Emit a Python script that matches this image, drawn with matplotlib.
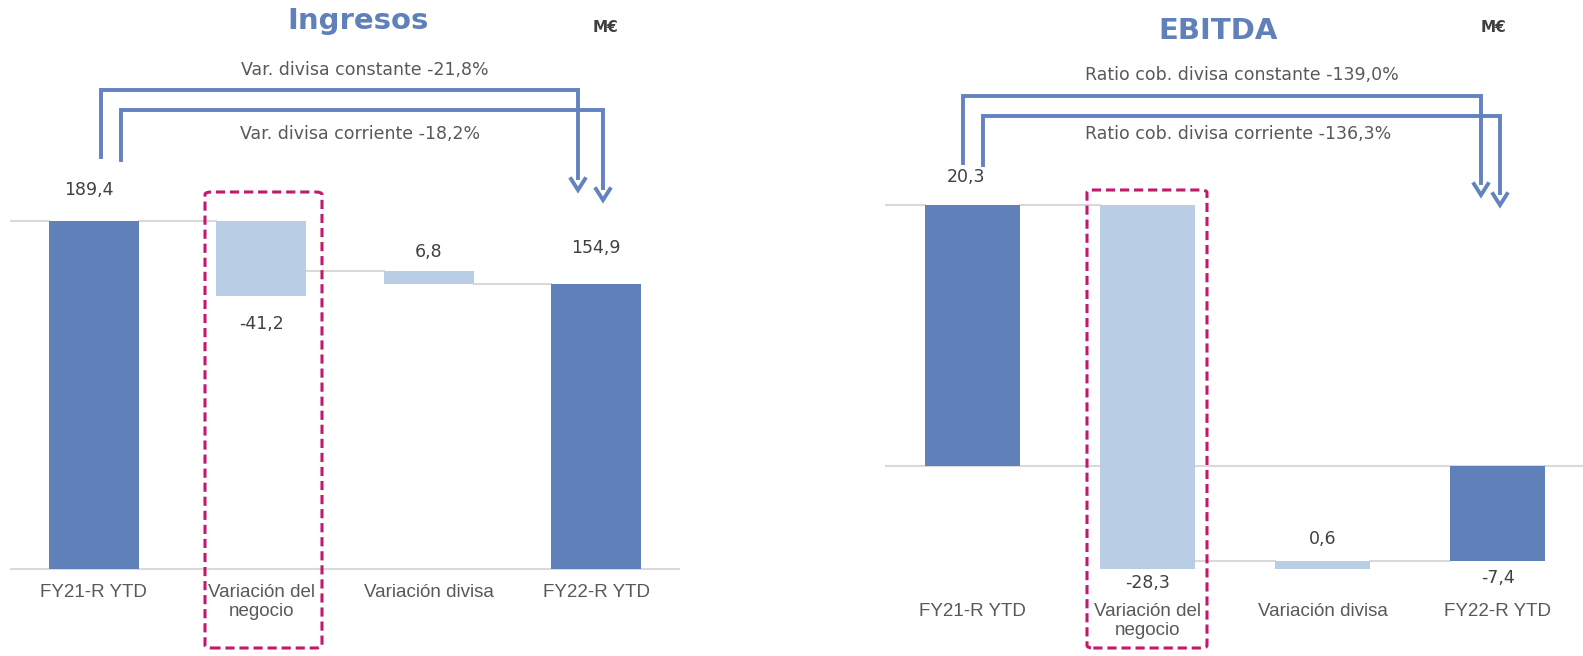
import numpy as np
import matplotlib.pyplot as plt
from matplotlib.patches import FancyBboxPatch
from matplotlib.transforms import blended_transform_factory

W, H = 1583, 656

categories = ['FY21-R YTD', 'Variación del\nnegocio', 'Variación divisa', 'FY22-R YTD']

# Ingresos (M€)
ing_values = [189.4, -41.2, 6.8, 154.9]
ing_bases = [0, 189.4, 154.9, 0]
ing_labels = ['189,4', '-41,2', '6,8', '154,9']
ing_notes = ['Var. divisa constante -21,8%', 'Var. divisa corriente -18,2%']

# EBITDA (M€)
ebitda_values = [20.3, -28.3, 0.6, -7.4]
ebitda_bases = [0, 20.3, -8.0, 0]
ebitda_labels = ['20,3', '-28,3', '0,6', '-7,4']
ebitda_notes = ['Ratio cob. divisa constante -139,0%', 'Ratio cob. divisa corriente -136,3%']

is_total = [True, False, False, True]

DARK = '#6080BA'
LIGHT = '#B9CDE5'
ARROW = '#6382C0'
GRID = '#D9D9D9'
MAGENTA = '#C2186F'
TXT = '#404040'
CAT = '#595959'

fig = plt.figure(figsize=(W / 100, H / 100), dpi=100)


def fx(px):
    return px / W


def fy(py):
    return 1 - py / H


def waterfall(x0, x1, zero_px, scale, values, bases, labels, cat_y, offsets, first_dx):
    ax = fig.add_axes([fx(x0), 0, fx(x1 - x0), 1])
    ax.set_xlim(-0.5, 3.5)
    ax.set_ylim(-(H - zero_px) / scale, zero_px / scale)
    ax.axis('off')
    x = np.arange(len(values))
    colors = [DARK if t else LIGHT for t in is_total]
    ax.bar(x, values, bottom=bases, width=0.54, color=colors, zorder=3)
    ax.axhline(0, color=GRID, lw=1.5, zorder=1)
    # connectors between bars
    tops = [b + v for b, v in zip(bases, values)]
    levels = [tops[0], max(tops[2], bases[2]), tops[3]]
    for i, lev in enumerate(levels):
        ax.plot([i + 0.27, i + 1 - 0.27], [lev, lev], color=GRID, lw=1.5, zorder=1)
    ax.plot([-0.5, -0.27], [tops[0], tops[0]], color=GRID, lw=1.5, zorder=1)
    # value labels
    for i, (b, v, lab) in enumerate(zip(bases, values, labels)):
        top, bot = max(b, b + v), min(b, b + v)
        dx = first_dx if i == 0 else 0
        if v < 0:
            ax.annotate(lab, (i + dx, bot), xytext=(0, -offsets[i]), textcoords='offset points',
                        ha='center', va='center', fontsize=12.5, color=TXT)
        else:
            ax.annotate(lab, (i + dx, top), xytext=(0, offsets[i]), textcoords='offset points',
                        ha='center', va='center', fontsize=12.5, color=TXT)
    tr = blended_transform_factory(ax.transData, fig.transFigure)
    for i, c in enumerate(categories):
        ax.text(i, fy(cat_y), c, transform=tr, ha='center', va='top',
                fontsize=13.5, color=CAT, family='Liberation Sans', linespacing=1.15)
    return ax


waterfall(10, 680, 569, 1.84, ing_values, ing_bases, ing_labels, 584,
          [22, 20, 14, 26], -0.03)
waterfall(885, 1585, 466, 12.86, ebitda_values, ebitda_bases, ebitda_labels, 603,
          [20, 10, 16, 12], -0.04)


def bracket(xa, ya, xb, yb, ytop):
    fig.add_artist(plt.Line2D([fx(xa), fx(xa), fx(xb), fx(xb)],
                              [fy(ya), fy(ytop), fy(ytop), fy(yb - 12)],
                              color=ARROW, lw=2.8, solid_joinstyle='miter'))
    fig.add_artist(plt.Line2D([fx(xb - 7), fx(xb), fx(xb + 7)],
                              [fy(yb - 11), fy(yb), fy(yb - 11)],
                              color=ARROW, lw=2.8, solid_joinstyle='miter'))


bracket(101, 157, 578, 190, 90)
bracket(121, 160, 603, 200, 110)
bracket(963, 163, 1481, 195, 96)
bracket(983, 165, 1500, 205, 116)

note_kw = dict(ha='center', va='center', fontsize=12.5, color=CAT)
fig.text(fx(365), fy(70), ing_notes[0], **note_kw)
fig.text(fx(360), fy(134), ing_notes[1], **note_kw)
fig.text(fx(1242), fy(75), ebitda_notes[0], **note_kw)
fig.text(fx(1238), fy(134), ebitda_notes[1], **note_kw)

title_kw = dict(ha='center', va='center', fontsize=21, color=DARK, fontweight='bold')
fig.text(fx(358), fy(21), 'Ingresos', **title_kw)
fig.text(fx(1218), fy(31), 'EBITDA', **title_kw)
fig.text(fx(605), fy(28), 'M€', ha='center', va='center', fontsize=11,
         fontweight='bold', color=TXT)
fig.text(fx(1493), fy(28), 'M€', ha='center', va='center', fontsize=11,
         fontweight='bold', color=TXT)

for x0, y0, x1, y1 in [(205, 192, 322, 648), (1087, 190, 1207, 648)]:
    box = FancyBboxPatch((fx(x0), fy(y1)), fx(x1 - x0), fy(y0) - fy(y1),
                         boxstyle='round,pad=0,rounding_size=0.004',
                         transform=fig.transFigure, fill=False, ec=MAGENTA,
                         lw=2.2, ls=(0, (3, 1.6)))
    fig.add_artist(box)

fig.savefig('out.png', dpi=100)
